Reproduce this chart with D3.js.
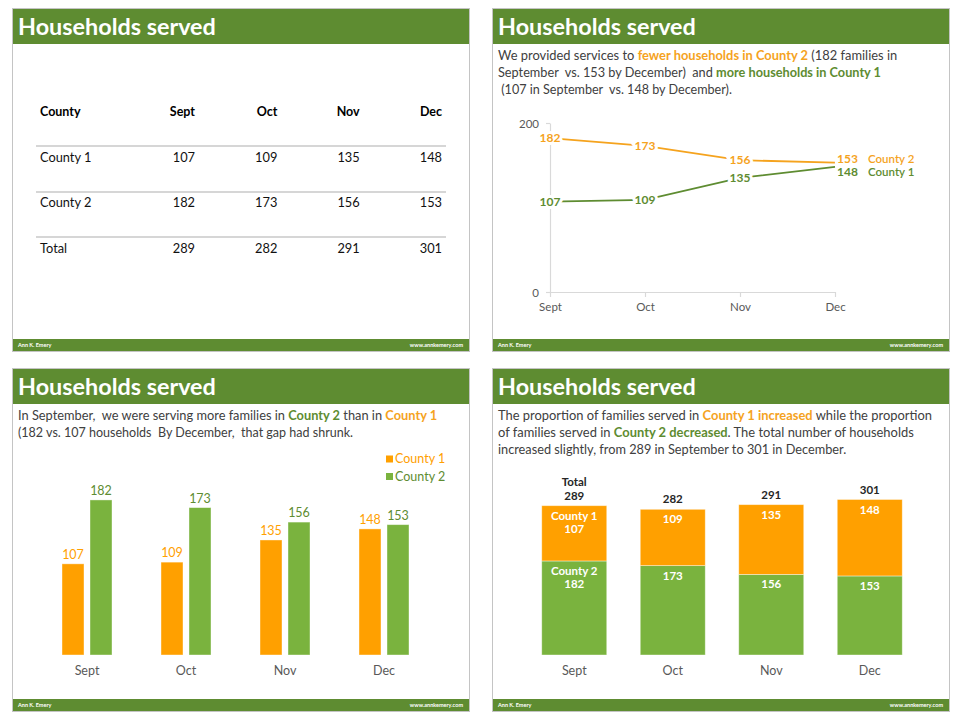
<!DOCTYPE html>
<html><head><meta charset="utf-8">
<script src="https://cdn.jsdelivr.net/npm/d3@7"></script>
<style>body{margin:0;background:#fff}svg{display:block}text{font-family:Lato,"Open Sans",sans-serif}</style>
</head><body><svg id="c" width="960" height="720"></svg>
<script>
// ---- data ----
const months = ["Sept", "Oct", "Nov", "Dec"];
const seriesNames = ["County 1", "County 2"];
const county1 = [107, 109, 135, 148];
const county2 = [182, 173, 156, 153];
const totals = [289, 282, 291, 301];
const lineTicks = [0, 200];
const title = "Households served";
const footerLeft = "Ann K. Emery";
const footerRight = "www.annkemery.com";

// ---- styles ----
const HEAD = "#5E8C31", ORANGE = "#FFA000", GREEN = "#7AB33E", DGREEN = "#5E8C31",
      LORANGE = "#F5A31E", TXT = "#404040", AX = "#595959";

const svg = d3.select("#c");

function fit(sel, target) {
  const w = sel.node().getComputedTextLength();
  const fs = parseFloat(sel.attr("font-size"));
  if (w > 0) sel.attr("font-size", (fs * target / w).toFixed(2));
}

function slide(ox, oy) {
  const g = svg.append("g").attr("transform", `translate(${ox},${oy})`);
  g.append("rect").attr("x", 12.5).attr("y", 8.5).attr("width", 457).attr("height", 343)
    .attr("fill", "#fff").attr("stroke", "#c4c4c4");
  g.append("rect").attr("x", 13).attr("y", 9).attr("width", 456).attr("height", 35).attr("fill", HEAD);
  const t = g.append("text").attr("x", 18).attr("y", 35).attr("font-size", 22)
    .attr("font-weight", 700).attr("fill", "#fff").text(title);
  fit(t, 198);
  g.append("rect").attr("x", 13).attr("y", 339).attr("width", 456).attr("height", 12).attr("fill", HEAD);
  g.append("text").attr("x", 18).attr("y", 347.3).attr("font-size", 5.5).attr("font-weight", 700)
    .attr("fill", "#fff").text(footerLeft);
  g.append("text").attr("x", 463).attr("y", 347.3).attr("font-size", 5.5).attr("font-weight", 700)
    .attr("text-anchor", "end").attr("fill", "#fff").text(footerRight);
  return g;
}

// body text line: keeps glyph height, squeezes horizontally to the measured width
function rich(g, x, y, parts, target) {
  const t = g.append("text").attr("x", 0).attr("y", 0).attr("font-size", 13.2)
    .attr("fill", TXT).style("white-space", "pre");
  parts.forEach(([s, c]) => {
    const ts = t.append("tspan").text(s);
    if (c === "o") ts.attr("fill", LORANGE).attr("font-weight", 700);
    if (c === "g") ts.attr("fill", DGREEN).attr("font-weight", 700);
  });
  const w = t.node().getComputedTextLength();
  t.attr("transform", `translate(${x},${y}) scale(${(target / w).toFixed(4)},1)`);
  return t;
}

// ================= Slide 1: table =================
const g1 = slide(0, 0);
const colX = d3.scalePoint().domain(months).range([195, 442]);
g1.append("text").attr("x", 40).attr("y", 115.5).attr("font-size", 12.5).attr("font-weight", 700)
  .attr("fill", "#000").text("County");
g1.selectAll("text.hdr").data(months).join("text").attr("class", "hdr")
  .attr("x", d => colX(d)).attr("y", 115.5).attr("text-anchor", "end")
  .attr("font-size", 12.5).attr("font-weight", 700).attr("fill", "#000").text(d => d);
const rows = [
  { name: "County 1", vals: county1, y: 157, line: 146 },
  { name: "County 2", vals: county2, y: 202, line: 192 },
  { name: "Total", vals: totals, y: 248, line: 237 }
];
rows.forEach(r => {
  g1.append("line").attr("x1", 36).attr("x2", 446).attr("y1", r.line).attr("y2", r.line)
    .attr("stroke", "#c8c8c8").attr("stroke-width", 1.5);
  g1.append("text").attr("x", 40).attr("y", r.y + 4.5).attr("font-size", 12.8).attr("fill", "#111").text(r.name);
  g1.selectAll(null).data(r.vals).join("text")
    .attr("x", (d, i) => colX(months[i])).attr("y", r.y + 4.5).attr("text-anchor", "end")
    .attr("font-size", 12.8).attr("fill", "#111").text(d => d);
});

// ================= Slide 2: line chart =================
const g2 = slide(480, 0);
rich(g2, 18, 59.5, [["We provided services to "], ["fewer households in County 2", "o"], [" (182 families in"]], 399);
rich(g2, 18, 76.5, [["September  vs. 153 by December)  and "], ["more households in County 1", "g"]], 383);
rich(g2, 18, 93.5, [[" (107 in September  vs. 148 by December)."]], 234);

const lx = d3.scalePoint().domain(months).range([70, 355]);
const ly = d3.scaleLinear().domain([0, 200]).range([292, 123]);
const yAx = g2.append("g").attr("transform", "translate(70,0)")
  .call(d3.axisLeft(ly).tickValues(lineTicks).tickSize(4).tickSizeOuter(0).tickPadding(7));
const xAx = g2.append("g").attr("transform", "translate(0,292)")
  .call(d3.axisBottom(lx).tickSize(5).tickSizeOuter(0).tickPadding(6));
[yAx, xAx].forEach(a => {
  a.select(".domain").attr("stroke", "#d9d9d9").attr("stroke-width", 1.2);
  a.selectAll(".tick line").attr("stroke", "#d9d9d9").attr("stroke-width", 1.2);
  a.selectAll(".tick text").attr("fill", AX).attr("font-size", 11.5).attr("font-family", "Lato");
});
yAx.selectAll(".tick text").attr("dy", "0.35em");

const lineGen = d3.line().x((d, i) => lx(months[i])).y(d => ly(d));
const lineSeries = [
  { name: "County 2", vals: county2, color: LORANGE, dec: -4 },
  { name: "County 1", vals: county1, color: DGREEN, dec: 5 }
];
lineSeries.forEach(s => {
  g2.append("path").datum(s.vals).attr("d", lineGen).attr("fill", "none")
    .attr("stroke", s.color).attr("stroke-width", 1.8);
});
lineSeries.forEach(s => {
  g2.selectAll(null).data(s.vals).join("text")
    .attr("x", (d, i) => i === 3 ? lx(months[i]) + 2 : lx(months[i]))
    .attr("y", (d, i) => ly(d) + (i === 3 ? s.dec : 0))
    .attr("dy", "0.35em")
    .attr("text-anchor", (d, i) => i === 3 ? "start" : "middle")
    .attr("font-size", 12).attr("font-weight", 700).attr("fill", s.color)
    .attr("stroke", "#fff").attr("stroke-width", 6).attr("paint-order", "stroke")
    .text(d => d);
  g2.append("text").attr("x", 388).attr("y", ly(s.vals[3]) + s.dec).attr("dy", "0.35em")
    .attr("font-size", 11.5).attr("fill", s.color).attr("font-weight", 600).text(s.name);
});

// ================= Slide 3: grouped bars =================
const g3 = slide(0, 360);
rich(g3, 18, 59.5, [["In September,  we were serving more families in "], ["County 2", "g"], [" than in "], ["County 1", "o"]], 419);
rich(g3, 18, 76.5, [["(182 vs. 107 households  By December,  that gap had shrunk."]], 335);

const bx0 = d3.scaleBand().domain(months).range([37.5, 433.5]);
const bx1 = d3.scaleBand().domain(seriesNames).range([-25, 25]).paddingInner(6 / 28);
const by = d3.scaleLinear().domain([0, 200]).range([295, 124.6]);
const barSeries = [
  { name: "County 1", vals: county1, color: ORANGE, label: ORANGE },
  { name: "County 2", vals: county2, color: GREEN, label: DGREEN }
];
barSeries.forEach(s => {
  g3.selectAll(null).data(s.vals).join("rect")
    .attr("x", (d, i) => bx0(months[i]) + bx0.bandwidth() / 2 + bx1(s.name))
    .attr("y", d => by(d)).attr("width", bx1.bandwidth()).attr("height", d => by(0) - by(d))
    .attr("fill", s.color).attr("stroke", "#fff").attr("stroke-opacity", 0.5).attr("stroke-width", 0.8);
  g3.selectAll(null).data(s.vals).join("text")
    .attr("x", (d, i) => bx0(months[i]) + bx0.bandwidth() / 2 + bx1(s.name) + bx1.bandwidth() / 2)
    .attr("y", d => by(d) - 5).attr("text-anchor", "middle")
    .attr("font-size", 12.5).attr("fill", s.label).text(d => d);
});
g3.selectAll(null).data(months).join("text")
  .attr("x", d => bx0(d) + bx0.bandwidth() / 2).attr("y", 314.5).attr("text-anchor", "middle")
  .attr("font-size", 12.5).attr("fill", AX).text(d => d);
barSeries.forEach((s, i) => {
  const ly0 = 99 + i * 17.5;
  g3.append("rect").attr("x", 386).attr("y", ly0 - 3.5).attr("width", 7).attr("height", 7).attr("fill", s.color);
  g3.append("text").attr("x", 395).attr("y", ly0).attr("dy", "0.35em").attr("font-size", 12.5)
    .attr("fill", s.label === DGREEN ? DGREEN : ORANGE).text(s.name);
});

// ================= Slide 4: stacked bars =================
const g4 = slide(480, 360);
rich(g4, 18, 59.5, [["The proportion of families served in "], ["County 1 increased", "o"], [" while the proportion"]], 434);
rich(g4, 18, 76.5, [["of families served in "], ["County 2 decreased", "g"], [". The total number of households"]], 416);
rich(g4, 18, 93.5, [["increased slightly, from 289 in September to 301 in December."]], 348);

const table = months.map((m, i) => ({ month: m, "County 1": county1[i], "County 2": county2[i], total: totals[i] }));
const stacked = d3.stack().keys(["County 2", "County 1"])(table);
const sx = d3.scaleBand().domain(months).range([45, 439]).paddingInner(0.34).paddingOuter(0.17);
const sy = d3.scaleLinear().domain([0, 300]).range([295, 140]);
const stackColor = { "County 1": ORANGE, "County 2": GREEN };
stacked.forEach(layer => {
  g4.selectAll(null).data(layer).join("rect")
    .attr("x", d => sx(d.data.month)).attr("width", sx.bandwidth())
    .attr("y", d => sy(d[1])).attr("height", d => sy(d[0]) - sy(d[1]))
    .attr("fill", stackColor[layer.key]).attr("stroke", "#fff").attr("stroke-opacity", 0.5).attr("stroke-width", 0.8);
  layer.forEach((d, i) => {
    const cx = sx(d.data.month) + sx.bandwidth() / 2;
    const top = sy(d[1]);
    const lines = i === 0 ? [layer.key, d.data[layer.key]] : [d.data[layer.key]];
    lines.forEach((s, j) => {
      g4.append("text").attr("x", cx).attr("y", top + 10 + j * 13.5).attr("dy", "0.35em")
        .attr("text-anchor", "middle").attr("font-size", 11.5).attr("font-weight", 700)
        .attr("fill", "#fff").text(s);
    });
  });
});
table.forEach((d, i) => {
  const cx = sx(d.month) + sx.bandwidth() / 2;
  const top = sy(d["County 1"] + d["County 2"]);
  const lines = i === 0 ? ["Total", d.total] : [d.total];
  lines.forEach((s, j) => {
    g4.append("text").attr("x", cx).attr("y", top - 10 - (lines.length - 1 - j) * 14).attr("dy", "0.35em")
      .attr("text-anchor", "middle").attr("font-size", 11.5).attr("font-weight", 700)
      .attr("fill", "#262626").text(s);
  });
});
g4.selectAll(null).data(months).join("text")
  .attr("x", d => sx(d) + sx.bandwidth() / 2).attr("y", 314.5).attr("text-anchor", "middle")
  .attr("font-size", 12.5).attr("fill", AX).text(d => d);
</script></body></html>
